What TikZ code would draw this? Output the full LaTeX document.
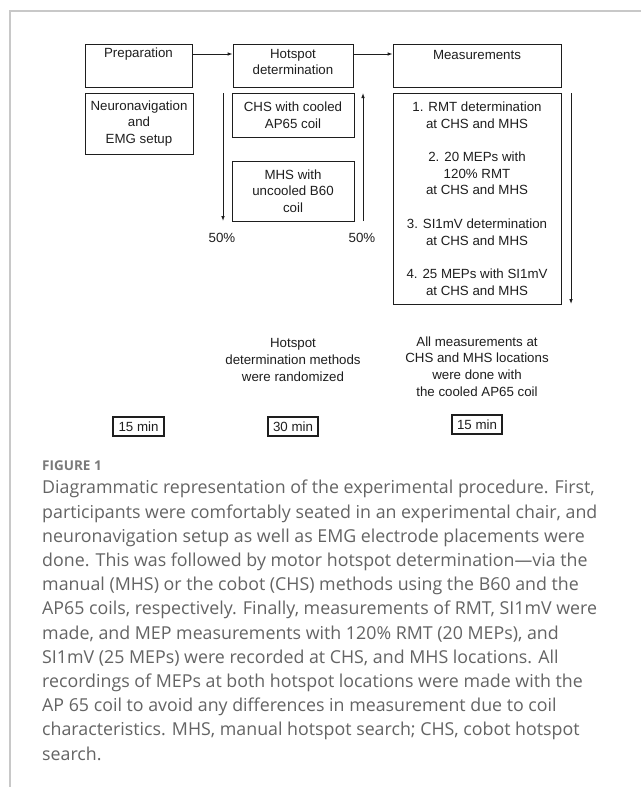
\documentclass[tikz,border=0pt]{standalone}
\usepackage{fontspec}
\setmainfont{Liberation Sans}
\newfontfamily\capfont{Open Sans}
\usetikzlibrary{arrows.meta}
\definecolor{ink}{HTML}{1E1E1E}
\definecolor{framegray}{HTML}{C8C8C8}
\definecolor{capgray}{HTML}{646464}
\definecolor{figgray}{HTML}{7A7A7A}
\begin{document}
\begin{tikzpicture}[x=1pt,y=-1pt,
  box/.style={draw=ink, line width=0.9pt, inner sep=0pt},
  txt/.style={text=ink, font=\fontsize{13.3}{16.7}\selectfont, align=center, inner sep=0pt},
  timebox/.style={draw=ink, line width=1.3pt, inner sep=0pt, text=ink, font=\fontsize{13.3}{16.7}\selectfont},
  arr/.style={draw=ink, line width=0.9pt, -{Latex[length=5pt,width=3.6pt]}}]
\useasboundingbox (0,0) rectangle (641,787);
\fill[white] (0,0) rectangle (641,787);
\draw[framegray, line width=1.5pt] (641,11) -- (10,11) -- (10,787);

% top row
\node[box, minimum width=107pt, minimum height=43pt] (prep) at (138.5,65.5) {};
\node[box, minimum width=120pt, minimum height=43pt] (hot) at (293,65.5) {};
\node[box, minimum width=168pt, minimum height=43pt] (meas) at (477,65.5) {};
\node[txt] (prept) at (138.5,54.5) {Preparation};
\node[txt] (hott) at (293,62) {Hotspot\\determination};
\node[txt] (meast) at (477,54.5) {Measurements};
\draw[arr] (prep.east |- 0,54) -- (hot.west |- 0,54);
\draw[arr] (hot.east |- 0,54) -- (meas.west |- 0,54);

% second row
\node[box, txt, minimum width=108pt, minimum height=61pt] (neuro) at (139,123.5) {Neuronavigation\\and\\EMG setup};
\node[box, txt, minimum width=122pt, minimum height=44pt] (chs) at (293,115) {CHS with cooled\\AP65 coil};
\node[box, txt, minimum width=122pt, minimum height=60pt] (mhs) at (293,191) {MHS with\\uncooled B60\\coil};
\node[box, txt, minimum width=168pt, minimum height=211pt] (list) at (477,198.5)
  {1. RMT determination\\at CHS and MHS\\[16.7pt]
   2. 20 MEPs with\\120\% RMT\\at CHS and MHS\\[16.7pt]
   3. SI1mV determination\\at CHS and MHS\\[16.7pt]
   4. 25 MEPs with SI1mV\\at CHS and MHS};

\coordinate (la1) at (223,93);
\coordinate (la2) at (223,221);
\coordinate (ra1) at (363,221);
\coordinate (ra2) at (363,93);
\coordinate (ma1) at (571,93);
\coordinate (ma2) at (571,304);
\draw[arr] (la1) -- (la2);
\draw[arr] (ra1) -- (ra2);
\draw[arr] (ma1) -- (ma2);
\node[txt] (p1) at (222,238) {50\%};
\node[txt] (p2) at (362,238) {50\%};

% notes
\node[txt] (note1) at (293,360) {Hotspot\\determination methods\\were randomized};
\node[txt] (note2) at (477,366.5) {All measurements at\\CHS and MHS locations\\were done with\\the cooled AP65 coil};

% time boxes
\node[timebox, minimum width=51pt, minimum height=19pt] (t1) at (138.5,426.5) {15 min};
\node[timebox, minimum width=50pt, minimum height=19pt] (t2) at (293,426.5) {30 min};
\node[timebox, minimum width=50pt, minimum height=19pt] (t3) at (477,424.5) {15 min};

% caption
\node[anchor=west, inner sep=0pt, text=figgray, font=\capfont\bfseries\fontsize{13.5}{16}\selectfont] (fig) at (42,466) {FIGURE 1};
\node[anchor=north west, inner sep=0pt, align=left, text=capgray, font=\capfont\fontsize{17.8}{24.2}\selectfont] (cap) at (42,480)
{Diagrammatic representation of the experimental procedure. First,\\
participants were comfortably seated in an experimental chair, and\\
neuronavigation setup as well as EMG electrode placements were\\
done. This was followed by motor hotspot determination—via the\\
manual (MHS) or the cobot (CHS) methods using the B60 and the\\
AP65 coils, respectively. Finally, measurements of RMT, SI1mV were\\
made, and MEP measurements with 120\% RMT (20 MEPs), and\\
SI1mV (25 MEPs) were recorded at CHS, and MHS locations. All\\
recordings of MEPs at both hotspot locations were made with the\\
AP 65 coil to avoid any differences in measurement due to coil\\
characteristics. MHS, manual hotspot search; CHS, cobot hotspot\\
search.};
\end{tikzpicture}
\end{document}
